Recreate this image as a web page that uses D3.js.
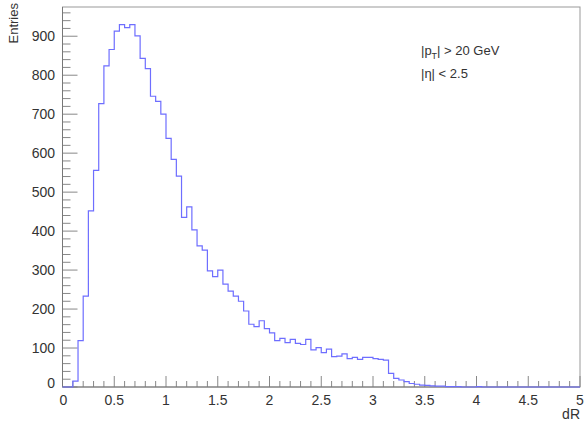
<!DOCTYPE html>
<html><head><meta charset="utf-8">
<script src="https://cdn.jsdelivr.net/npm/d3@7"></script>
<style>body{margin:0;background:#fff}svg{display:block}text{font-family:"Liberation Sans",Arial,sans-serif;fill:#333}</style>
</head><body>
<svg id="c" width="584" height="427"></svg>
<script>
const binWidth = 0.05;
const binStarts = d3.range(100).map(i => +(i*0.05).toFixed(2));
const counts = [0,0,15,119,233,452,556,727,824,866,
913,930,922,930,901,843,817,746,733,700,
638,584,541,435,462,403,362,351,298,283,
300,264,246,233,220,195,161,155,170,150,
139,119,125,114,122,112,109,122,95,101,
88,97,78,79,85,73,76,71,76,76,
73,71,69,35,22,18,14,9,7,5,
4,3,2,2,1,1,1,0,0,0,
1,0,0,0,0,0,0,0,0,0,
0,0,0,0,0,0,0,0,0,0];
const xTickLabels = ["0","0.5","1","1.5","2","2.5","3","3.5","4","4.5","5"];
const yTickLabels = ["0","100","200","300","400","500","600","700","800","900"];
const xTitle = "dR", yTitle = "Entries";

const svg = d3.select("#c");
const x = d3.scaleLinear().domain([0,5]).range([62.5,580]);
const y = d3.scaleLinear().domain([0,975]).range([387,7]);

// frame
svg.append("rect").attr("x",x(0)).attr("y",y(975)).attr("width",x(5)-x(0)).attr("height",y(0)-y(975))
  .attr("fill","none").attr("stroke","#999").attr("stroke-width",1);

// x ticks (inside, upward)
const xMinor = d3.range(0,5.0001,0.1);
svg.append("g").selectAll("line").data(xMinor).join("line")
  .attr("x1",d=>x(d)).attr("x2",d=>x(d)).attr("y1",y(0))
  .attr("y2",d=> Math.abs(d*2-Math.round(d*2))<1e-6 ? y(0)-11 : y(0)-6)
  .attr("stroke","#888").attr("stroke-width",1);
// y ticks (inside, rightward)
const yMinor = d3.range(0,975,20);
svg.append("g").selectAll("line").data(yMinor).join("line")
  .attr("y1",d=>y(d)).attr("y2",d=>y(d)).attr("x1",x(0))
  .attr("x2",d=> d%100===0 ? x(0)+15 : x(0)+8)
  .attr("stroke","#888").attr("stroke-width",1);

// axis lines
svg.append("line").attr("x1",x(0)).attr("x2",x(5)).attr("y1",y(0)).attr("y2",y(0)).attr("stroke","#777");
svg.append("line").attr("x1",x(0)).attr("x2",x(0)).attr("y1",y(0)).attr("y2",y(975)).attr("stroke","#777");

// labels
svg.append("g").selectAll("text").data(xTickLabels).join("text")
  .attr("x",(d,i)=>x(i*0.5) + (i===0?1:0)).attr("y",i=>405)
  .attr("text-anchor","middle").attr("font-size",14).text(d=>d);
svg.append("g").selectAll("text").data(yTickLabels).join("text")
  .attr("x",55).attr("y",(d,i)=>y(i*100)+ (i===0?1:5)).attr("text-anchor","end").attr("font-size",14).text(d=>d);

svg.append("text").attr("x",580).attr("y",419).attr("text-anchor","end").attr("font-size",14).text(xTitle);
svg.append("text").attr("transform","translate(18,3) rotate(-90)").attr("text-anchor","end").attr("font-size",13).text(yTitle);

// histogram step path
const pts = [[0,0]];
counts.forEach((c,i)=>{ pts.push([binStarts[i],c]); pts.push([binStarts[i]+binWidth,c]); });
pts.push([5,0]);
const line = d3.line().x(d=>x(d[0])).y(d=>y(d[1]));
svg.append("path").attr("d",line(pts)).attr("fill","none").attr("stroke","#6e6eff").attr("stroke-width",1.2);

// annotation
const t1 = svg.append("text").attr("x",421).attr("y",55).attr("font-size",13);
t1.append("tspan").text("|p");
t1.append("tspan").attr("font-size",9).attr("dy",4).text("T");
t1.append("tspan").attr("dy",-4).text("| > 20 GeV");
svg.append("text").attr("x",421).attr("y",78).attr("font-size",13).text("|η| < 2.5");
</script>
</body></html>
